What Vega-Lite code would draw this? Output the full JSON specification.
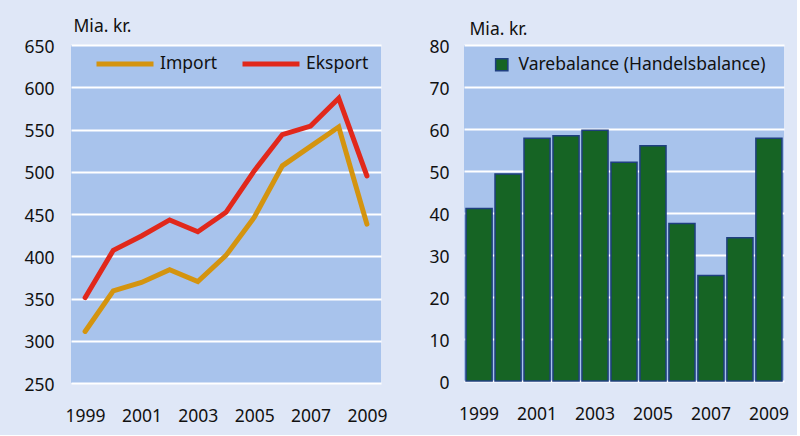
{
  "$schema": "https://vega.github.io/schema/vega-lite/v6.json",
  "background": "#dfe7f7",
  "padding": {"left": 23, "top": 17, "right": 8, "bottom": 10},
  "datasets": {
    "trade": [
      {"year": 1999, "series": "Import", "value": 311},
      {"year": 2000, "series": "Import", "value": 359},
      {"year": 2001, "series": "Import", "value": 369},
      {"year": 2002, "series": "Import", "value": 384},
      {"year": 2003, "series": "Import", "value": 370},
      {"year": 2004, "series": "Import", "value": 401},
      {"year": 2005, "series": "Import", "value": 446},
      {"year": 2006, "series": "Import", "value": 507},
      {"year": 2007, "series": "Import", "value": 530},
      {"year": 2008, "series": "Import", "value": 553},
      {"year": 2009, "series": "Import", "value": 438},
      {"year": 1999, "series": "Eksport", "value": 351},
      {"year": 2000, "series": "Eksport", "value": 407},
      {"year": 2001, "series": "Eksport", "value": 424},
      {"year": 2002, "series": "Eksport", "value": 443},
      {"year": 2003, "series": "Eksport", "value": 429},
      {"year": 2004, "series": "Eksport", "value": 452},
      {"year": 2005, "series": "Eksport", "value": 501},
      {"year": 2006, "series": "Eksport", "value": 544},
      {"year": 2007, "series": "Eksport", "value": 554},
      {"year": 2008, "series": "Eksport", "value": 587},
      {"year": 2009, "series": "Eksport", "value": 495}
    ],
    "balance": [
      {"year": 1999, "series": "Varebalance (Handelsbalance)", "value": 41.1},
      {"year": 2000, "series": "Varebalance (Handelsbalance)", "value": 49.3},
      {"year": 2001, "series": "Varebalance (Handelsbalance)", "value": 57.8},
      {"year": 2002, "series": "Varebalance (Handelsbalance)", "value": 58.4},
      {"year": 2003, "series": "Varebalance (Handelsbalance)", "value": 59.7},
      {"year": 2004, "series": "Varebalance (Handelsbalance)", "value": 52.1},
      {"year": 2005, "series": "Varebalance (Handelsbalance)", "value": 56.0},
      {"year": 2006, "series": "Varebalance (Handelsbalance)", "value": 37.5},
      {"year": 2007, "series": "Varebalance (Handelsbalance)", "value": 25.1},
      {"year": 2008, "series": "Varebalance (Handelsbalance)", "value": 34.1},
      {"year": 2009, "series": "Varebalance (Handelsbalance)", "value": 57.8}
    ]
  },
  "config": {
    "font": "Noto Sans",
    "view": {"fill": "#a8c3ec", "stroke": null},
    "axis": {
      "labelFont": "Noto Sans",
      "labelFontSize": 17.5,
      "labelColor": "#111111",
      "titleFont": "Noto Sans",
      "titleFontSize": 17.5,
      "titleFontWeight": "normal",
      "titleColor": "#111111",
      "domain": false,
      "ticks": false
    },
    "legend": {
      "labelFont": "Noto Sans",
      "labelFontSize": 17.5,
      "labelColor": "#111111",
      "labelLimit": 0,
      "padding": 0
    }
  },
  "bounds": "flush",
  "spacing": 83,
  "resolve": {"scale": {"color": "independent"}, "legend": {"color": "independent"}},
  "hconcat": [
    {
      "width": 310,
      "height": 338,
      "data": {"name": "trade"},
      "mark": {"type": "line", "strokeWidth": 5, "strokeCap": "round"},
      "encoding": {
        "x": {
          "field": "year",
          "type": "ordinal",
          "scale": {"type": "point", "padding": 0.5},
          "axis": {"title": null, "labelAngle": 0, "values": [1999, 2001, 2003, 2005, 2007, 2009], "labelPadding": 24, "grid": false}
        },
        "y": {
          "field": "value",
          "type": "quantitative",
          "scale": {"domain": [250, 650], "nice": false, "zero": false},
          "axis": {
            "title": "Mia. kr.",
            "titleAngle": 0,
            "titleAlign": "left",
            "titleBaseline": "alphabetic",
            "titleX": 2,
            "titleY": -13.5,
            "values": [250, 300, 350, 400, 450, 500, 550, 600, 650],
            "grid": true,
            "gridColor": "#ffffff",
            "gridWidth": 2,
            "gridOpacity": 1,
            "labelPadding": 17,
            "labelOffset": 2
          }
        },
        "color": {
          "field": "series",
          "type": "nominal",
          "sort": ["Import", "Eksport"],
          "scale": {"domain": ["Import", "Eksport"], "range": ["#d4940f", "#e1281b"]},
          "legend": {
            "title": null,
            "orient": "none",
            "legendX": 23,
            "legendY": -12,
            "direction": "horizontal",
            "gridAlign": "none",
            "symbolType": "stroke",
            "symbolSize": 3249,
            "symbolStrokeWidth": 5,
            "labelOffset": 4,
            "columnPadding": 14
          }
        }
      }
    },
    {
      "width": 320,
      "height": 336,
      "data": {"name": "balance"},
      "mark": {"type": "bar", "stroke": "#1f3f80", "strokeWidth": 1.5},
      "encoding": {
        "x": {
          "field": "year",
          "type": "ordinal",
          "scale": {"type": "band", "paddingInner": 0.1, "paddingOuter": 0.07},
          "axis": {"title": null, "labelAngle": 0, "values": [1999, 2001, 2003, 2005, 2007, 2009], "labelPadding": 24, "grid": false}
        },
        "y": {
          "field": "value",
          "type": "quantitative",
          "scale": {"domain": [0, 80], "nice": false},
          "axis": {
            "title": "Mia. kr.",
            "titleAngle": 0,
            "titleAlign": "left",
            "titleBaseline": "alphabetic",
            "titleX": 5,
            "titleY": -11,
            "values": [0, 10, 20, 30, 40, 50, 60, 70, 80],
            "grid": true,
            "gridColor": "#ffffff",
            "gridWidth": 2,
            "gridOpacity": 1,
            "labelPadding": 15,
            "labelOffset": 2
          }
        },
        "color": {
          "field": "series",
          "type": "nominal",
          "scale": {"domain": ["Varebalance (Handelsbalance)"], "range": ["#166424"]},
          "legend": {
            "title": null,
            "orient": "none",
            "legendX": 29,
            "legendY": 11,
            "symbolType": "square",
            "symbolSize": 150,
            "symbolStrokeColor": "#1f3f80",
            "symbolStrokeWidth": 1.5,
            "symbolOpacity": 1,
            "labelOffset": 8
          }
        }
      }
    }
  ]
}
